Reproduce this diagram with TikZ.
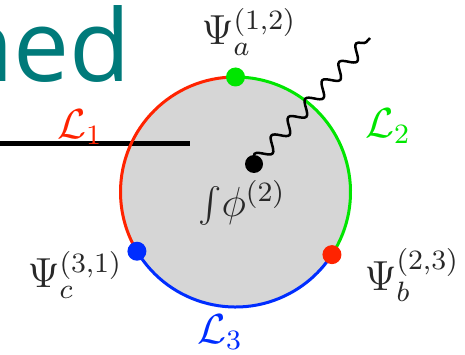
\documentclass[tikz,border=0pt]{standalone}
\usepackage{fontspec}
\newfontfamily\titlefont{Open Sans}
\usetikzlibrary{decorations.pathmorphing}
\definecolor{teal1}{RGB}{0,122,122}
\definecolor{lred}{RGB}{255,35,0}
\definecolor{lgreen}{RGB}{0,230,0}
\definecolor{lblue}{RGB}{0,45,255}
\definecolor{disk}{RGB}{214,214,214}
\definecolor{ink}{RGB}{40,40,40}
\begin{document}
\begin{tikzpicture}[x=1pt,y=-1pt,
  lab/.style={inner sep=0pt, scale=3.5, font=\fontsize{12}{14}\selectfont},
  arcline/.style={line width=3pt},
  dot/.style={circle, inner sep=0pt, minimum size=19pt}]
\useasboundingbox (0,0) rectangle (465,355);
\clip (0,0) rectangle (465,355);
% title fragment
\node[anchor=base east, inner sep=0pt, text=teal1, font=\titlefont\fontsize{100}{100}\selectfont] (title) at (131,82) {hed};
% disk
\coordinate (C) at (235.5,192);
\fill[disk] (C) circle[radius=115pt];
% black line
\coordinate (lineL) at (0,144);
\coordinate (lineR) at (190,144);
\draw[line width=5pt] (lineL) -- (lineR);
% arcs
\draw[arcline, lred] ([shift={(90:115pt)}]C) arc[start angle=90, end angle=211, radius=115pt];
\draw[arcline, lblue] ([shift={(211:115pt)}]C) arc[start angle=211, end angle=327, radius=115pt];
\draw[arcline, lgreen] ([shift={(-33:115pt)}]C) arc[start angle=-33, end angle=90, radius=115pt];
% dots
\node[dot, fill=lgreen] (da) at ([shift={(90:115pt)}]C) {};
\node[dot, fill=lred] (db) at ([shift={(-33:115pt)}]C) {};
\node[dot, fill=lblue] (dc) at ([shift={(211:115pt)}]C) {};
% wiggle
\node[circle, fill=black, inner sep=0pt, minimum size=18pt] (vert) at (254,164) {};
\coordinate (wend) at (370,38);
\draw[line width=2.5pt, decorate, decoration={snake, amplitude=6.5pt, segment length=25pt}] (vert.center) -- (wend);
% labels
\node[lab, text=ink] (Pa) at (249,32) {$\Psi_a^{(1,2)}$};
\node[lab, text=ink] (Pb) at (412,275) {$\Psi_b^{(2,3)}$};
\node[lab, text=ink] (Pc) at (75,275) {$\Psi_c^{(3,1)}$};
\node[lab, text=lred] (L1) at (80,127) {$\mathcal{L}_1$};
\node[lab, text=lgreen] (L2) at (388,126) {$\mathcal{L}_2$};
\node[lab, text=lblue] (L3) at (220,332) {$\mathcal{L}_3$};
\node[lab, text=ink] (int) at (242,203) {$\int\!\phi^{(2)}$};
\end{tikzpicture}
\end{document}
